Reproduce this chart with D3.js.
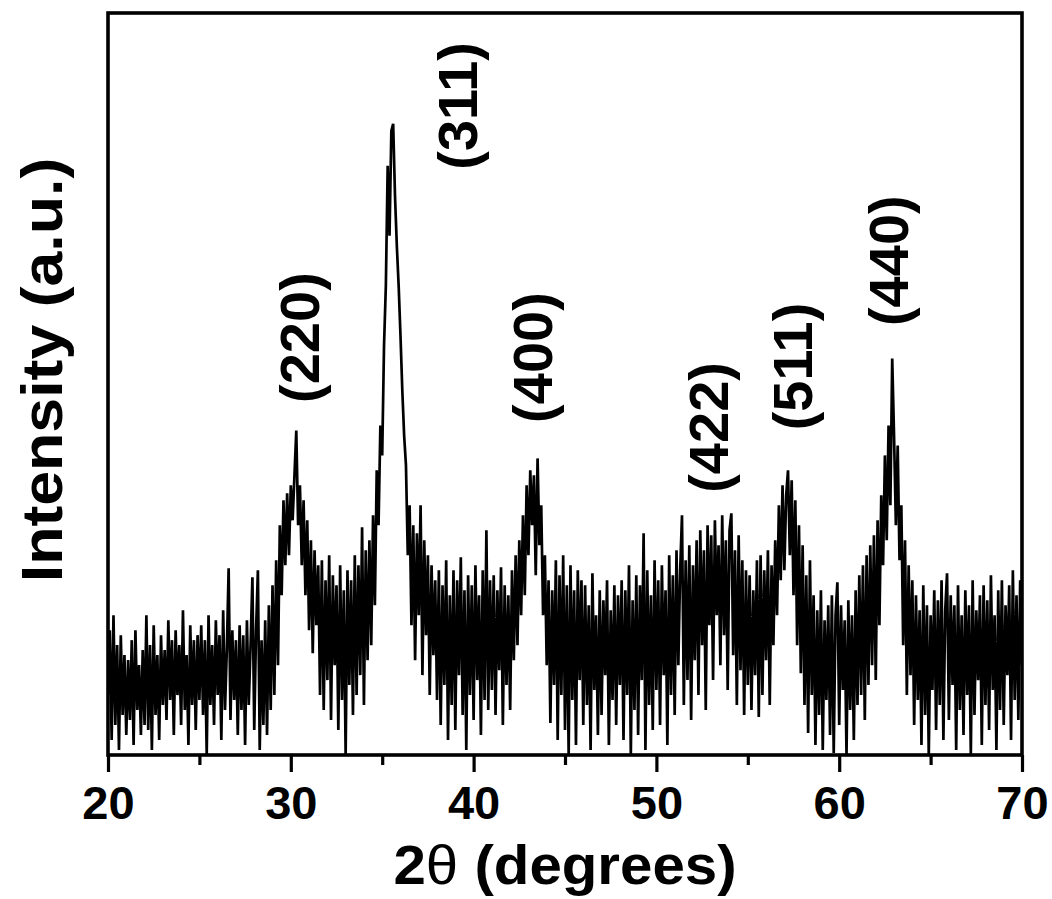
<!DOCTYPE html>
<html>
<head>
<meta charset="utf-8">
<script src="https://cdn.jsdelivr.net/npm/d3@7"></script>
<style>
  body { margin: 0; background: #ffffff; }
  svg { display: block; }
</style>
</head>
<body>
<svg id="chart" width="1052" height="899"></svg>
<script>
const twoThetaStart = 20;   // degrees
const twoThetaStep = 0.1;   // degrees per sample
const intensity = [
  // 20.0 - 21.0
  60,125,15,140,30,110,5,120,40,100,20,
  // 21.1 - 22.0
  95,35,115,10,125,45,90,20,105,30,
  // 22.1 - 23.0
  140,25,110,5,130,40,100,15,120,50,
  // 23.1 - 25.0
  105,35,135,55,115,20,125,60,110,30,145,45,100,10,130,50,115,25,120,55,
  // 25.1 - 27.0
  130,40,115,0,140,50,110,30,135,60,120,15,145,45,105,187,35,125,55,115,
  // 27.1 - 28.5
  20,130,45,120,10,135,50,110,178,25,125,185,5,115,30,
  // 28.6 - 29.3
  135,20,150,45,170,60,195,90,
  // 29.4 - 30.0
  230,160,255,190,262,200,270,
  // 30.1 - 30.5  (220)
  235,280,325,230,270,
  // 30.6 - 31.5
  190,255,160,235,125,215,102,205,130,190,
  // 31.6 - 33.5
  60,195,45,175,75,200,35,180,90,170,25,190,55,165,0,185,70,175,40,200,
  // 33.6 - 34.5
  60,190,80,228,50,205,95,215,110,240,
  // 34.6 - 36.5  (311)
  150,285,230,330,300,410,470,590,520,625,632,560,510,470,420,365,320,290,200,250,
  // 36.6 - 38.0
  130,230,95,222,140,250,80,215,120,200,60,190,100,175,55,
  // 38.1 - 41.0
  185,30,170,70,195,15,160,50,185,25,175,80,198,40,165,5,180,60,170,35,190,75,160,20,185,55,225,45,175,65,
  // 41.1 - 42.3
  180,40,165,85,188,30,170,70,160,45,185,95,200,
  // 42.4 - 43.9  (400)
  110,215,140,240,160,270,200,285,230,280,180,297,210,250,140,200,
  // 44.0 - 44.5
  90,175,32,165,70,195,
  // 44.6 - 46.0
  15,180,60,200,25,170,0,190,55,165,10,185,75,175,30,
  // 46.1 - 48.0
  170,50,150,5,182,65,140,20,165,40,155,80,175,10,145,55,170,30,160,70,
  // 48.1 - 50.0
  175,15,165,60,190,0,155,45,180,20,170,75,222,5,185,50,160,25,195,65,
  // 50.1 - 52.0
  175,30,190,80,165,10,200,60,180,40,205,90,185,240,50,195,75,210,35,190,
  // 52.1 - 55.0  (422)
  95,215,60,225,110,205,45,230,130,220,75,235,140,210,90,240,120,215,65,225,242,100,205,50,220,85,195,40,185,70,
  // 55.1 - 56.4
  180,45,165,80,195,38,200,60,185,95,205,50,190,110,
  // 56.5 - 57.8  (511)
  215,140,250,175,270,185,260,285,200,275,160,255,110,230,
  // 57.9 - 58.5
  82,210,50,180,22,195,60,
  // 58.6 - 61.0
  160,10,145,40,165,5,135,55,150,20,160,2,140,173,30,150,65,135,0,155,45,140,15,165,50,
  // 61.1 - 62.3
  180,60,190,35,200,70,210,90,220,75,235,130,260,
  // 62.4 - 63.3  (440)
  190,300,215,330,250,397,320,230,310,195,
  // 63.4 - 64.0
  250,110,215,60,190,80,175,
  // 64.1 - 70.0
  30,160,55,145,10,170,40,150,0,140,65,165,25,155,50,175,15,145,182,35,
  160,70,150,5,170,45,140,20,165,60,150,0,175,40,145,75,160,10,170,50,
  155,25,180,65,140,5,165,45,175,30,150,80,170,15,185,55,160,35,175,90
];
const xTicks = [20, 30, 40, 50, 60, 70];
const xMinorTicks = [25, 35, 45, 55, 65];
const xDomain = [20, 70];
const yDomain = [0, 743];
const peakLabels = ["(220)", "(311)", "(400)", "(422)", "(511)", "(440)"];
const peakLabelAngles = [30.72, 39.37, 43.47, 53.1, 57.69, 62.94];
const peakLabelHeights = [418, 650, 398, 328, 389, 495];
const xTitle = "2θ (degrees)";
const yTitle = "Intensity (a.u.)";

// ---- Layout ----
const W = 1052, H = 899;
const margin = { left: 108, right: 30, top: 13, bottom: 144 };
const iw = W - margin.left - margin.right;
const ih = H - margin.top - margin.bottom;
const FONT = "'Liberation Sans', Arial, Helvetica, sans-serif";

const points = intensity.map((v, i) => ({ t: twoThetaStart + i * twoThetaStep, v }));

const svg = d3.select("#chart");
const g = svg.append("g").attr("transform", `translate(${margin.left},${margin.top})`);

const x = d3.scaleLinear().domain(xDomain).range([0, iw]);
const y = d3.scaleLinear().domain(yDomain).range([ih, 0]);

svg.append("defs").append("clipPath").attr("id", "plotClip")
  .append("rect").attr("x", 0).attr("y", 0).attr("width", iw).attr("height", ih);

// data line
const line = d3.line().x(d => x(d.t)).y(d => y(d.v));
g.append("path")
  .datum(points)
  .attr("clip-path", "url(#plotClip)")
  .attr("fill", "none")
  .attr("stroke", "#000")
  .attr("stroke-width", 2.7)
  .attr("stroke-linejoin", "miter")
  .attr("stroke-miterlimit", 2)
  .attr("d", line);

// minor ticks
const minorAxis = g.append("g")
  .attr("transform", `translate(0,${ih})`)
  .call(d3.axisBottom(x).tickValues(xMinorTicks).tickSize(10).tickFormat(""));
minorAxis.select(".domain").remove();
minorAxis.selectAll(".tick line").attr("stroke", "#000").attr("stroke-width", 3.2);

// major ticks
const xAxis = g.append("g")
  .attr("transform", `translate(0,${ih})`)
  .call(d3.axisBottom(x).tickValues(xTicks).tickSize(17).tickPadding(14).tickFormat(d3.format("d")));
xAxis.select(".domain").remove();
xAxis.selectAll(".tick line").attr("stroke", "#000").attr("stroke-width", 3.2);
xAxis.selectAll(".tick text")
  .attr("fill", "#000")
  .style("font-family", FONT)
  .style("font-weight", "bold")
  .style("font-size", "47px");

// frame
g.append("rect")
  .attr("x", 0).attr("y", 0).attr("width", iw).attr("height", ih)
  .attr("fill", "none").attr("stroke", "#000").attr("stroke-width", 3.6);

// peak labels
g.selectAll("text.peak")
  .data(peakLabels)
  .enter().append("text")
  .attr("class", "peak")
  .attr("transform", (d, i) => `translate(${x(peakLabelAngles[i])},${y(peakLabelHeights[i])}) rotate(-90)`)
  .attr("text-anchor", "middle")
  .attr("dy", "0.27em")
  .style("font-family", FONT)
  .style("font-weight", "bold")
  .style("font-size", "56px")
  .text(d => d);

// x title
const xt = svg.append("text")
  .attr("transform", `translate(${margin.left + iw / 2},884) scale(1.04,1)`)
  .attr("text-anchor", "middle")
  .style("font-family", FONT)
  .style("font-weight", "bold")
  .style("font-size", "56px");
xt.append("tspan").text(xTitle.slice(0, 1));
xt.append("tspan").style("font-weight", "normal").text(xTitle.slice(1, 2));
xt.append("tspan").text(xTitle.slice(2));

// y title
svg.append("text")
  .attr("transform", `translate(62,370) rotate(-90) scale(1.08,1)`)
  .attr("text-anchor", "middle")
  .style("font-family", FONT)
  .style("font-weight", "bold")
  .style("font-size", "58px")
  .text(yTitle);
</script>
</body>
</html>
